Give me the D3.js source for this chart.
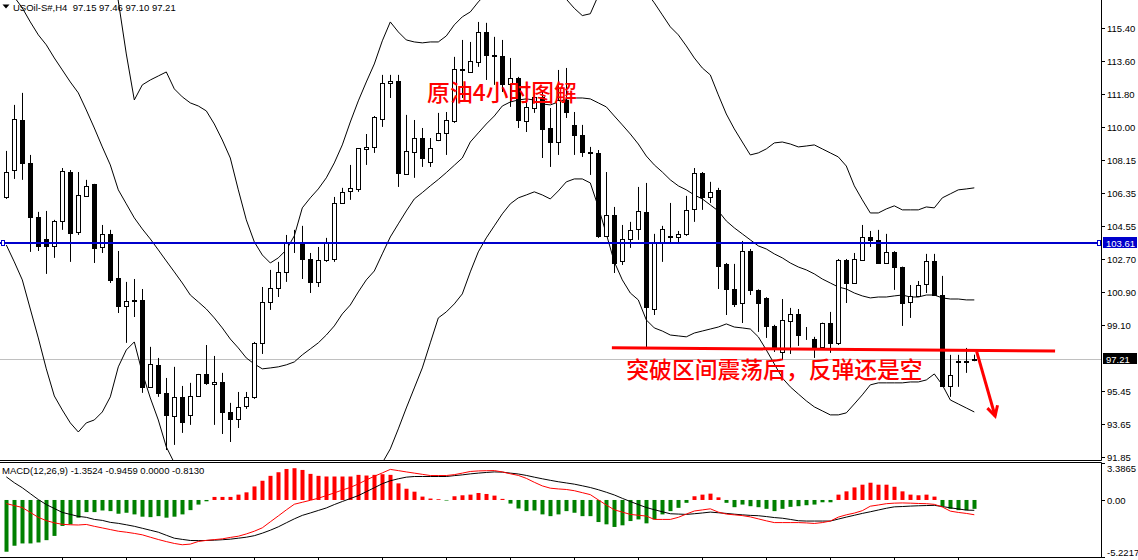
<!DOCTYPE html>
<html><head><meta charset="utf-8">
<script src="https://cdn.jsdelivr.net/npm/d3@7"></script>
<style>
html,body{margin:0;padding:0;background:#fff;overflow:hidden}
svg{display:block}
text{font-family:"Liberation Sans",Arial,sans-serif}
</style></head><body>
<svg id="c" width="1138" height="560"></svg>
<script>
// ---------- DATA ----------
const opens=[106.13,107.61,110.36,108.00,105.03,103.82,103.44,104.81,107.50,104.21,
106.19,106.85,103.38,104.10,101.68,100.14,100.47,100.47,95.69,96.90,
95.36,94.09,95.14,94.15,95.19,96.40,95.85,95.96,94.31,93.93,
94.64,95.14,98.11,100.36,101.13,102.01,103.55,103.60,102.72,101.46,
102.67,102.72,105.80,106.46,106.57,108.77,108.88,110.42,112.40,112.51,
107.39,108.60,109.37,108.05,109.26,109.65,110.31,113.17,113.00,113.55,
115.20,113.94,113.88,112.34,112.67,110.31,111.02,111.63,109.92,109.15,
111.46,110.09,109.54,108.60,108.55,103.99,105.14,102.61,103.82,104.37,
105.31,99.97,103.60,103.99,103.93,104.10,105.47,107.45,106.13,106.52,
102.45,101.07,100.30,103.16,101.02,100.58,99.04,97.61,99.31,99.70,
98.60,98.32,97.89,99.20,98.11,102.67,101.40,102.67,103.93,103.77,
102.50,103.11,102.28,100.36,100.69,101.35,102.61,100.74,95.74,97.06,
97.08,97.15];
const highs=[108.66,111.19,111.85,108.44,105.31,105.36,104.87,107.72,107.61,107.50,
107.07,106.85,104.59,104.32,103.16,101.46,101.62,101.07,97.89,97.28,
96.18,96.79,95.74,95.91,96.40,97.99,97.39,96.46,94.81,95.41,
95.41,98.16,101.18,102.12,102.56,104.04,104.32,104.54,103.05,103.38,
103.88,106.13,106.63,107.89,108.82,109.59,110.58,112.84,112.84,112.84,
110.64,110.36,109.92,109.37,110.75,110.80,113.83,114.76,114.65,115.75,
115.70,114.93,114.76,113.77,112.73,111.52,111.90,111.90,111.02,113.11,
113.22,110.80,110.09,108.88,108.71,107.50,105.58,104.59,104.76,106.68,
106.90,104.10,104.54,105.80,104.26,106.19,107.72,107.50,106.96,106.63,
102.50,102.45,103.71,103.27,101.05,100.62,99.10,100.52,100.03,99.97,
98.98,98.44,99.22,99.81,102.72,102.72,103.05,104.59,104.26,104.32,
104.10,103.15,102.30,101.29,101.51,103.00,103.00,101.79,97.45,97.45,
97.83,97.46];
const lows=[106.02,107.12,107.07,103.11,103.16,101.90,102.78,104.32,102.56,104.04,
106.13,102.50,103.05,101.40,99.75,98.11,99.53,95.36,95.63,95.14,
92.22,92.50,93.16,93.60,95.14,95.80,93.60,93.10,92.66,93.43,
94.48,95.03,97.50,99.92,100.63,101.46,103.05,101.62,100.85,101.18,
102.56,102.56,105.75,105.97,106.41,107.89,108.55,109.98,111.57,106.68,
107.34,107.18,107.78,107.78,109.20,108.44,110.20,111.57,112.95,113.28,
112.56,112.29,111.90,111.08,109.92,109.70,110.75,108.27,107.78,108.44,
110.47,108.44,108.33,107.34,103.88,103.93,101.95,102.39,103.33,103.77,
97.78,99.64,102.56,103.55,103.60,103.99,104.76,105.42,105.80,101.07,
99.64,100.08,99.20,100.74,98.71,98.38,97.61,97.17,97.50,97.94,
98.27,97.28,97.83,97.56,97.99,100.30,101.38,102.61,103.38,102.45,
102.45,101.02,99.04,99.48,100.63,100.85,100.70,95.69,95.14,95.69,
96.46,97.10];
const closes=[107.50,110.42,108.00,105.03,103.44,103.44,104.81,107.56,104.15,106.24,
106.74,103.33,104.10,101.57,100.14,100.41,100.41,95.69,96.95,95.36,
94.15,95.14,93.76,95.19,96.40,95.91,95.96,94.31,93.93,94.59,
95.14,98.11,100.36,101.13,102.01,103.60,103.57,102.72,101.46,102.67,
103.60,105.80,106.41,106.63,108.82,108.88,110.53,112.40,112.51,107.45,
108.66,109.37,108.27,108.82,109.65,110.36,113.17,113.12,113.61,115.20,
113.94,113.90,112.34,112.67,110.36,111.08,111.63,109.87,109.15,111.46,
110.80,109.54,108.60,108.55,103.99,105.14,102.50,103.82,104.32,105.36,
100.08,103.60,104.37,103.95,104.10,105.42,107.45,106.13,106.41,102.34,
101.07,100.25,103.16,101.02,100.30,99.04,97.89,99.37,99.70,98.54,
98.58,97.83,99.20,98.11,102.67,101.40,102.72,103.93,103.77,102.50,
103.11,102.28,100.30,100.69,101.29,102.61,100.74,95.74,96.35,97.12,
97.10,97.21];

const bbUpper=[121.5,121.6,121.5,121.3,121.2,121.0,120.9,120.8,120.6,120.5,
120.4,120.2,120.0,119.5,116.9,113.99,111.46,112.29,112.56,112.78,
113.00,112.07,111.63,111.30,111.13,110.86,110.14,109.26,108.27,106.52,
104.87,103.66,102.94,102.50,102.78,103.22,103.99,105.53,106.08,106.57,
107.18,108.00,108.99,110.25,111.41,112.45,113.44,114.71,115.75,115.20,
114.76,114.65,114.60,114.65,114.65,114.98,115.59,116.03,116.30,116.85,
117.3,117.7,118.0,118.2,118.3,118.3,118.2,118.0,117.6,117.3,
117.0,116.5,116.1,116.2,117.2,117.8,118.0,117.9,117.7,117.4,
117.40,116.80,116.14,115.48,115.04,114.43,113.77,113.22,112.84,111.74,
110.69,109.87,109.15,108.44,108.55,108.77,109.10,109.15,109.04,108.88,
108.93,108.99,108.77,108.55,108.33,107.83,106.74,105.97,105.25,105.25,
105.47,105.64,105.42,105.42,105.42,105.58,105.53,106.08,106.30,106.52,
106.57,106.63];
const bbMiddle=[117.78,117.12,116.52,115.75,115.04,114.49,113.77,113.11,112.45,111.85,
110.91,109.92,108.88,107.89,106.52,105.75,104.98,104.37,103.82,103.22,
102.61,102.01,101.40,100.74,100.36,99.97,99.48,98.93,98.32,97.83,
97.28,96.95,96.68,96.73,96.79,96.90,97.06,97.45,97.78,98.11,
98.54,99.04,99.70,100.19,100.91,101.57,102.06,103.00,103.93,104.65,
105.36,106.02,106.37,106.74,107.09,107.47,107.87,108.27,109.15,109.65,
110.14,110.58,111.13,111.35,111.46,111.52,111.46,111.24,111.19,111.35,
111.52,111.57,111.57,111.52,111.30,111.08,110.58,110.09,109.59,109.04,
108.38,107.89,107.50,107.07,106.74,106.52,106.24,106.02,105.69,105.36,
104.81,104.43,104.10,103.77,103.44,103.27,103.00,102.78,102.50,102.28,
102.12,101.90,101.62,101.40,101.18,101.07,100.85,100.69,100.58,100.63,
100.63,100.69,100.74,100.63,100.63,100.74,100.74,100.58,100.52,100.52,
100.47,100.47];
const bbLower=[103.49,102.56,101.57,99.97,98.38,96.68,95.19,94.42,93.71,93.21,
93.71,93.87,94.31,95.14,96.79,97.72,98.16,96.46,95.08,93.87,
92.39,91.51,90.85,90.19,89.64,89.20,88.82,88.49,88.27,88.10,
87.99,87.94,87.99,88.10,88.27,88.38,88.49,88.65,88.76,88.93,
89.20,89.47,89.75,90.02,90.41,90.79,91.23,91.51,92.28,93.38,
94.53,95.63,96.73,98.11,99.48,99.81,100.25,100.80,102.01,103.11,
103.88,104.54,105.20,105.75,106.08,106.24,106.41,106.24,106.02,106.46,
106.96,107.12,107.12,106.90,105.58,104.10,102.56,101.57,100.85,100.47,
99.37,98.93,98.76,98.54,98.49,98.44,98.65,98.76,98.87,98.98,
99.15,98.98,98.93,98.87,98.44,97.72,96.95,96.18,95.69,95.30,
94.92,94.59,94.37,94.15,94.15,94.26,94.75,95.25,95.80,95.91,
95.91,95.91,95.91,95.96,95.96,96.07,96.40,95.80,94.97,94.75,
94.53,94.31];

const macdHist=[-4.74,-4.19,-3.98,-3.98,-3.89,-3.68,-3.29,-2.38,-2.23,-1.62,
-1.11,-1.11,-0.96,-1.02,-1.26,-1.17,-1.32,-1.53,-1.57,-1.48,
-1.62,-1.53,-1.32,-0.93,-0.42,-0.12,0.28,0.28,0.28,0.49,
0.70,1.24,1.76,2.21,2.54,2.84,2.91,2.75,2.39,2.21,
2.15,2.15,2.15,2.15,2.30,2.24,2.30,2.36,2.30,1.52,
1.03,0.76,0.31,0.13,0.07,-0.05,0.34,0.43,0.49,0.64,
0.55,0.40,0.10,-0.33,-0.78,-1.02,-0.96,-1.32,-1.48,-1.32,
-1.02,-1.17,-1.48,-1.48,-2.02,-2.23,-2.47,-2.32,-1.93,-1.78,
-2.14,-1.78,-1.32,-1.02,-0.72,-0.26,0.34,0.49,0.58,0.24,
-0.26,-0.66,-0.42,-0.57,-0.66,-0.81,-1.02,-0.81,-0.63,-0.57,
-0.48,-0.42,-0.21,-0.21,0.49,0.79,1.15,1.40,1.58,1.40,
1.40,1.21,0.79,0.49,0.43,0.49,0.31,-0.57,-0.81,-0.93,
-0.93,-0.813];
const macdBlack=[2.12,1.58,1.12,0.58,0.04,-0.42,-0.78,-1.14,-1.32,-1.50,
-1.59,-1.78,-1.87,-2.05,-2.14,-2.27,-2.41,-2.59,-2.77,-2.95,
-3.23,-3.50,-3.61,-3.71,-3.72,-3.71,-3.68,-3.64,-3.59,-3.50,
-3.41,-3.27,-3.04,-2.77,-2.46,-2.09,-1.73,-1.41,-1.19,-0.96,
-0.73,-0.42,-0.14,0.13,0.40,0.76,1.12,1.49,1.76,1.94,
2.09,2.15,2.15,2.15,2.15,2.15,2.23,2.30,2.39,2.46,
2.52,2.57,2.55,2.46,2.38,2.25,2.09,1.94,1.80,1.67,
1.56,1.45,1.30,1.14,0.94,0.71,0.46,0.15,-0.14,-0.42,
-0.69,-0.89,-1.08,-1.26,-1.29,-1.32,-1.26,-1.19,-1.11,-1.17,
-1.23,-1.30,-1.36,-1.41,-1.44,-1.52,-1.61,-1.67,-1.78,-1.90,
-1.93,-1.93,-1.93,-1.93,-1.75,-1.57,-1.40,-1.23,-1.08,-0.92,
-0.76,-0.63,-0.60,-0.56,-0.53,-0.51,-0.49,-0.60,-0.72,-0.82,
-0.93,-0.9459];
const macdRed=[-0.33,-0.51,-0.69,-1.14,-1.59,-1.89,-2.09,-2.23,-2.27,-2.29,
-2.24,-2.41,-2.56,-2.71,-2.86,-2.95,-3.06,-3.19,-3.41,-3.62,
-3.81,-3.98,-4.10,-4.04,-3.80,-3.70,-3.63,-3.56,-3.43,-3.32,
-3.11,-2.86,-2.55,-2.00,-1.46,-0.91,-0.39,-0.21,-0.03,0.16,
0.40,0.65,0.91,1.15,1.47,1.83,2.17,2.48,2.80,2.69,
2.57,2.46,2.35,2.24,2.24,2.24,2.32,2.46,2.61,2.66,
2.68,2.69,2.57,2.40,2.25,1.98,1.62,1.29,1.08,1.01,
0.96,0.85,0.67,0.49,0.01,-0.46,-0.90,-1.11,-1.32,-1.40,
-1.47,-1.78,-1.78,-1.78,-1.59,-1.29,-1.01,-0.91,-0.81,-1.11,
-1.29,-1.36,-1.43,-1.55,-1.73,-1.91,-2.07,-2.07,-2.07,-2.07,
-2.10,-2.15,-2.07,-1.93,-1.57,-1.36,-1.20,-0.98,-0.57,-0.46,
-0.34,-0.29,-0.27,-0.29,-0.32,-0.34,-0.40,-0.64,-1.02,-1.14,
-1.23,-1.3524];

const priceTicks=[115.40,113.60,111.80,110.00,108.15,106.35,104.55,102.70,100.90,99.10,95.45,93.65,91.85];
const priceTickLabels=["115.40","113.60","111.80","110.00","108.15","106.35","104.55","102.70","100.90","99.10","95.45","93.65","91.85"];
const macdTicks=[3.3865,0,-5.2217];
const macdTickLabels=["3.3865","0.00","-5.2217"];
const timeTickIdx=[7,15,23,31,39,47,55,63,71,79,87,95,103,111,119];

const titleText="USOil-S#,H4  97.15 97.46 97.10 97.21";
const macdTitle="MACD(12,26,9) -1.3524 -0.9459 0.0000 -0.8130";
const hLineLevel=103.61, hLineLabel="103.61";
const bidLevel=97.21, bidLabel="97.21";
// annotations (bar index, price)
const supportLine=[[75.7,97.84],[131.1,97.66]];
const arrowLine=[[121.3,97.63],[123.6,94.09]];
const note1={i:52.6,p:111.41,text:"原油4小时图解"};
const note2={i:77.5,p:96.18,text:"突破区间震荡后，反弹还是空"};

// ---------- LAYOUT ----------
const W=1138,H=560,PR=1101,MAIN_B=460,M_T=463,M_B=557;
const svg=d3.select("#c");
const x=d3.scaleLinear().domain([0,121]).range([6.3,974.3]);
const y=d3.scaleLinear().domain([91.67,116.956]).range([MAIN_B,0]);
const ym=d3.scaleLinear().domain([-5.2217,3.3865]).range([M_B,M_T]);
const cx=i=>Math.floor(x(i))+0.5;

const defs=svg.append("defs");
defs.append("clipPath").attr("id","cm").append("rect").attr("x",0).attr("y",0).attr("width",PR).attr("height",MAIN_B);
defs.append("clipPath").attr("id","cd").append("rect").attr("x",0).attr("y",M_T).attr("width",PR).attr("height",M_B-M_T);

const gm=svg.append("g").attr("clip-path","url(#cm)");
const gd=svg.append("g").attr("clip-path","url(#cd)");

// bid line
gm.append("line").attr("x1",0).attr("x2",PR).attr("y1",Math.round(y(bidLevel))+0.5).attr("y2",Math.round(y(bidLevel))+0.5)
  .attr("stroke","#c0c0c0").attr("stroke-width",1);

// bollinger bands
const idx=d3.range(opens.length);
[bbUpper,bbMiddle,bbLower].forEach(arr=>{
  gm.append("path").datum(idx).attr("fill","none").attr("stroke","#000").attr("stroke-width",1)
    .attr("d",d3.line().x(i=>x(i)).y(i=>y(arr[i])));
});

// candles
const cg=gm.append("g");
idx.forEach(i=>{
  const X=cx(i);
  const up=closes[i]>=opens[i];
  cg.append("line").attr("x1",X).attr("x2",X).attr("y1",y(highs[i])).attr("y2",y(lows[i])).attr("stroke","#000").attr("stroke-width",1);
  const top=Math.round(y(Math.max(opens[i],closes[i])))+0.5;
  const bot=Math.round(y(Math.min(opens[i],closes[i])))+0.5;
  cg.append("rect").attr("x",X-2).attr("width",4).attr("y",top).attr("height",Math.max(0,bot-top))
    .attr("fill",up?"#fff":"#000").attr("stroke","#000").attr("stroke-width",1);
});

// blue horizontal line
const hy=Math.round(y(hLineLevel));
gm.append("line").attr("x1",0).attr("x2",PR).attr("y1",hy).attr("y2",hy).attr("stroke","#0000cc").attr("stroke-width",2);
[1,PR-4].forEach(px=>gm.append("rect").attr("x",px+0.5).attr("y",hy-2.5).attr("width",3).attr("height",5)
  .attr("fill","#fff").attr("stroke","#0000cc").attr("stroke-width",1));

// annotations
const red="#ff0000";
svg.append("path").datum(supportLine).attr("fill","none").attr("stroke",red).attr("stroke-width",3)
  .attr("d",d3.line().x(d=>x(d[0])).y(d=>y(d[1])));
svg.append("path").datum(arrowLine).attr("fill","none").attr("stroke",red).attr("stroke-width",3)
  .attr("d",d3.line().x(d=>x(d[0])).y(d=>y(d[1])));
{
  const [a,b]=arrowLine; const x1=x(a[0]),y1=y(a[1]),x2=x(b[0]),y2=y(b[1]);
  const ang=Math.atan2(y1-y2,x1-x2), L=11, s=0.5;
  const p1=[x2+L*Math.cos(ang+s),y2+L*Math.sin(ang+s)], p2=[x2+L*Math.cos(ang-s),y2+L*Math.sin(ang-s)];
  svg.append("path").attr("d",`M${p1}L${x2},${y2}L${p2}`).attr("fill","none").attr("stroke",red).attr("stroke-width",3);
}
[note1,note2].forEach(n=>{
  svg.append("text").attr("x",x(n.i)).attr("y",y(n.p)).text(n.text)
    .style("font-family",'"Noto Sans CJK SC",sans-serif').style("font-size","22.8px").style("font-weight","500").attr("fill",red);
});

// MACD histogram
gd.selectAll("rect.h").data(idx).enter().append("rect")
  .attr("x",i=>cx(i)-2).attr("width",4)
  .attr("y",i=>Math.min(ym(0),ym(macdHist[i]))).attr("height",i=>Math.abs(ym(macdHist[i])-ym(0)))
  .attr("fill",i=>macdHist[i]>=0?"#ff0000":"#008000");
gd.append("path").datum(idx).attr("fill","none").attr("stroke","#000").attr("stroke-width",1)
  .attr("d",d3.line().x(i=>x(i)).y(i=>ym(macdBlack[i])));
gd.append("path").datum(idx).attr("fill","none").attr("stroke","#ff0000").attr("stroke-width",1)
  .attr("d",d3.line().x(i=>x(i)).y(i=>ym(macdRed[i])));

// frames
const fr=svg.append("g").attr("stroke","#000").attr("stroke-width",1);
fr.append("line").attr("x1",PR+0.5).attr("x2",PR+0.5).attr("y1",0).attr("y2",MAIN_B+0.5);
fr.append("line").attr("x1",PR+0.5).attr("x2",PR+0.5).attr("y1",M_T-0.5).attr("y2",M_B+0.5);
fr.append("line").attr("x1",0).attr("x2",PR+0.5).attr("y1",MAIN_B+0.5).attr("y2",MAIN_B+0.5);
fr.append("line").attr("x1",0).attr("x2",PR+0.5).attr("y1",M_T-0.5).attr("y2",M_T-0.5);
fr.append("line").attr("x1",0).attr("x2",PR+0.5).attr("y1",M_B+0.5).attr("y2",M_B+0.5);
timeTickIdx.forEach(i=>fr.append("line").attr("x1",cx(i)).attr("x2",cx(i)).attr("y1",M_B).attr("y2",H));

// price axis
const fs="9.5px";
priceTicks.forEach((v,j)=>{
  const yy=Math.round(y(v))+0.5;
  fr.append("line").attr("x1",PR).attr("x2",PR+4).attr("y1",yy).attr("y2",yy);
  svg.append("text").attr("x",PR+6).attr("y",yy+3.5).text(priceTickLabels[j]).style("font-size",fs).attr("fill","#000");
});
macdTicks.forEach((v,j)=>{
  let yy=Math.round(ym(v))+0.5;
  fr.append("line").attr("x1",PR).attr("x2",PR+4).attr("y1",yy).attr("y2",yy);
  let ty=yy+3.5; if(j===0) ty=M_T+9; if(j===macdTicks.length-1) ty=M_B-1;
  svg.append("text").attr("x",PR+6).attr("y",ty).text(macdTickLabels[j]).style("font-size",fs).attr("fill","#000");
});
// value boxes
function box(v,label,bg){
  const yy=Math.round(y(v));
  svg.append("rect").attr("x",PR+2).attr("y",yy-6).attr("width",34).attr("height",11).attr("fill",bg);
  svg.append("text").attr("x",PR+5).attr("y",yy+3.5).text(label).style("font-size",fs).attr("fill","#fff");
}
box(hLineLevel,hLineLabel,"#0000cc");
box(bidLevel,bidLabel,"#000");

// headers
svg.append("path").attr("d","M2.5,4.5L9.5,4.5L6,8.5Z").attr("fill","#000");
svg.append("text").attr("x",13).attr("y",11).text(titleText).style("font-size",fs).style("white-space","pre").attr("xml:space","preserve").attr("fill","#000");
svg.append("text").attr("x",2).attr("y",474).text(macdTitle).style("font-size",fs).attr("fill","#000");
</script>
</body></html>
